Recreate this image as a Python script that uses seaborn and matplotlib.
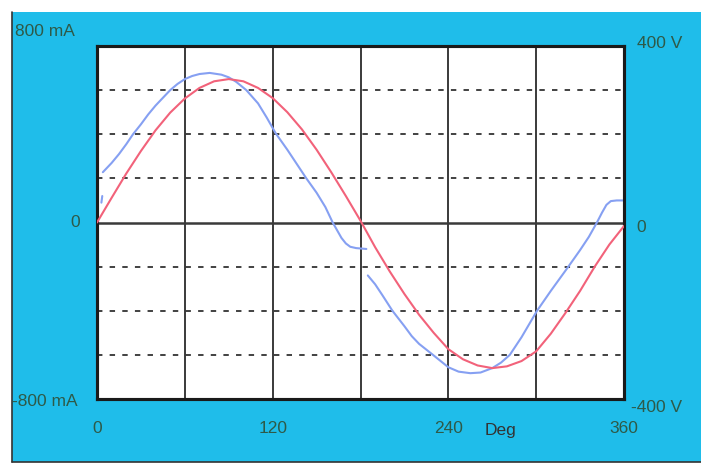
import numpy as np
import pandas as pd
import matplotlib
matplotlib.use("Agg")
import matplotlib.pyplot as plt
from matplotlib.patches import Rectangle
from matplotlib.lines import Line2D
import seaborn as sns

# voltage trace (red), degrees vs volts
volt_deg = [0, 10, 20, 30, 40, 50, 60, 70, 80, 90, 100, 110, 120, 130, 140, 150, 160, 170, 180,
            190, 200, 210, 220, 230, 240, 250, 260, 270, 280, 290, 300, 310, 320, 330, 340, 350, 360]
volt_v = [0, 56, 111, 162, 209, 249, 281, 305, 320, 325, 320, 305, 282, 250, 211, 165, 114, 60, 4,
          -56, -111, -162, -209, -250, -287, -310, -324, -330, -326, -314, -292, -252, -205, -155, -100, -50, -8]

# current trace (blue), three pieces with jumps near 0 and 180 deg
cur_deg = [3, 3.6,
           4, 10, 15, 20, 24.6, 30, 35, 40, 45, 50, 55, 60, 65, 70, 77, 85, 90, 95, 102, 110, 116, 122,
           130, 136, 143, 150, 156, 161, 164, 167, 170, 173, 177, 184,
           185, 190, 195, 201.8, 210, 215, 220, 229.5, 240, 247, 255, 262, 270, 276, 282, 290, 300.6,
           310, 322, 330, 336, 341.5, 345, 348, 351, 355, 360]
cur_ma = [90, 120,
          228, 270, 310, 355, 400, 445, 490, 530, 565, 600, 628, 650, 664, 673, 678, 670, 658, 638, 600, 540, 475, 405,
          330, 270, 200, 135, 70, 0, -35, -70, -95, -110, -116, -120,
          -240, -280, -330, -400, -470, -515, -550, -600, -656, -676, -683, -680, -660, -635, -600, -520, -400,
          -310, -200, -125, -65, 0, 45, 80, 97, 100, 100]
cur_seg = [0] * 2 + [1] * 34 + [2] * 27

x_labels = ["0", "", "120", "", "240", "", "360"]

cyan = "#1fbdea"
txt = "#2e5a48"
red = "#f2627a"
blue = "#86a0f2"

sns.set_theme(style="white")
plt.rcParams["font.family"] = ["Liberation Sans", "DejaVu Sans"]

fig = plt.figure(figsize=(7.01, 4.66), dpi=100)
fig.patch.set_facecolor("white")
W, H = 701, 466
fig.patches.append(Rectangle((12 / W, 4 / H), 1 - 12 / W, (462 - 12) / H,
                             transform=fig.transFigure, facecolor=cyan, edgecolor="none", zorder=-10))
fig.lines.append(Line2D([12 / W, 12 / W], [4 / H, 1 - 12 / H], transform=fig.transFigure, color="#333", lw=1.2,
                        zorder=-9))
fig.lines.append(Line2D([12 / W, 1], [4 / H, 4 / H], transform=fig.transFigure, color="#333", lw=1.2, zorder=-9))

ax = fig.add_axes([97 / W, (H - 399) / H, 527 / W, 353 / H])
ax.set_facecolor("white")
ax.set_xlim(0, 360)
ax.set_ylim(-800, 800)

# grid: solid verticals every 60 deg, dotted horizontals every 200 mA
for d in range(60, 360, 60):
    ax.axvline(d, color="#3a3a3a", lw=1.4, zorder=1)
for m in range(-600, 800, 200):
    if m == 0:
        ax.axhline(0, color="#3a3a3a", lw=1.8, zorder=1)
    else:
        ax.axhline(m, color="#333333", lw=1.3, ls=(0, (3, 4)), zorder=1)

cur_df = pd.DataFrame({"deg": cur_deg, "mA": cur_ma, "seg": cur_seg})
sns.lineplot(data=cur_df, x="deg", y="mA", units="seg", estimator=None, sort=False,
             color=blue, lw=1.5, ax=ax, zorder=3)

ax2 = ax.twinx()
ax2.set_ylim(-400, 400)
volt_df = pd.DataFrame({"deg": volt_deg, "V": volt_v})
sns.lineplot(data=volt_df, x="deg", y="V", color=red, lw=1.5, ax=ax2, zorder=3)

for a in (ax, ax2):
    a.set_xlabel("")
    a.set_ylabel("")
    a.set_yticks([])
    for s in a.spines.values():
        s.set_color("#1a1a1a")
        s.set_linewidth(2.2)

fs = 12.5
ax.set_xticks(range(0, 361, 60))
ax.set_xticklabels(x_labels, color=txt, fontsize=fs)
ax.tick_params(axis="x", length=0, pad=16)
ax2.set_xlim(0, 360)

fig.text(15 / W, 1 - 31 / H, "800 mA", color=txt, fontsize=fs, va="center", ha="left")
fig.text(80 / W, 1 - 222 / H, "0", color=txt, fontsize=fs, va="center", ha="right")
fig.text(12 / W, 1 - 402 / H, "-800 mA", color=txt, fontsize=fs, va="center", ha="left")
fig.text(637 / W, 1 - 44 / H, "400 V", color=txt, fontsize=fs, va="center", ha="left")
fig.text(636 / W, 1 - 228 / H, "0", color=txt, fontsize=fs, va="center", ha="left")
fig.text(631 / W, 1 - 408 / H, "-400 V", color=txt, fontsize=fs, va="center", ha="left")
fig.text(500 / W, 1 - 431 / H, "Deg", color="#333333", fontsize=fs, va="center", ha="center")

fig.savefig("out.png", dpi=100, facecolor=fig.get_facecolor())
